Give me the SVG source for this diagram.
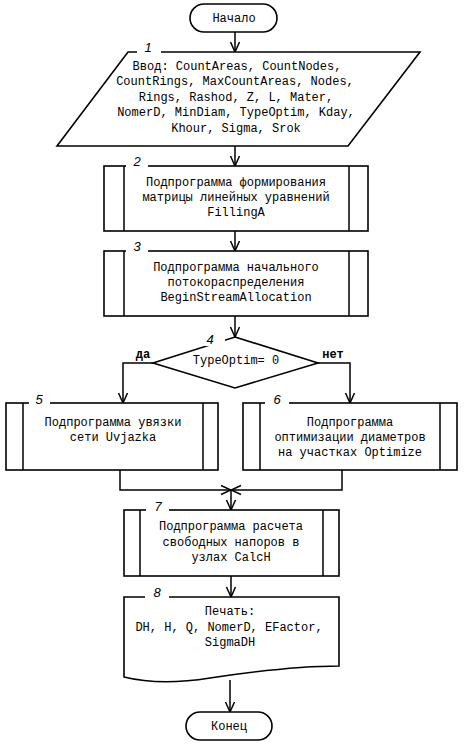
<svg xmlns="http://www.w3.org/2000/svg" width="464" height="745" viewBox="0 0 464 745">
<defs>
<marker id="arr" markerUnits="userSpaceOnUse" markerWidth="12" markerHeight="12" viewBox="0 0 12 12" refX="11" refY="6" orient="auto">
<path d="M1,1.5 L11,6 L1,10.5" fill="none" stroke="#000" stroke-width="1.5"/>
</marker>
</defs>
<style>
.s{fill:#fff;stroke:#000;stroke-width:1.6}
.l{fill:none;stroke:#000;stroke-width:1.5}
.t{font-family:"Liberation Mono","Courier New",monospace;font-size:12px;text-anchor:middle;fill:#000}
.n{font-family:"Liberation Sans",Arial,sans-serif;font-style:italic;font-size:13px;text-anchor:middle;fill:#000}
.y{font-family:"Liberation Mono","Courier New",monospace;font-size:12px;font-weight:bold;text-anchor:middle;fill:#000}
.g{fill:#fff;stroke:none}
</style>
<rect width="464" height="745" fill="#fff"/>
<g id="connectors">
<line class="l" x1="235" y1="32" x2="235" y2="52" marker-end="url(#arr)"/>
<line class="l" x1="235" y1="146" x2="235" y2="166" marker-end="url(#arr)"/>
<line class="l" x1="235" y1="231" x2="235" y2="251" marker-end="url(#arr)"/>
<line class="l" x1="235" y1="316" x2="235" y2="337" marker-end="url(#arr)"/>
<polyline class="l" points="153,363 123,363 123,403" marker-end="url(#arr)"/>
<polyline class="l" points="318,363 350,363 350,403" marker-end="url(#arr)"/>
<polyline class="l" points="120,470 120,490 231,490" marker-end="url(#arr)"/>
<polyline class="l" points="342,470 342,490 231,490" marker-end="url(#arr)"/>
<line class="l" x1="231" y1="490" x2="231" y2="510" marker-end="url(#arr)"/>
<line class="l" x1="231" y1="576" x2="231" y2="597" marker-end="url(#arr)"/>
<line class="l" x1="230" y1="680" x2="230" y2="712" marker-end="url(#arr)"/>
<text class="y" x="143" y="358">да</text>
<text class="y" x="333" y="358">нет</text>
</g>
<g id="start">
<rect class="s" x="190" y="4" width="87" height="28" rx="14"/>
<text class="t" x="234" y="22">Начало</text>
</g>
<g id="n1">
<polygon class="s" points="128,52 420,52 348,146 57,146"/>
<rect class="g" x="137" y="46" width="24" height="10"/>
<text class="n" x="148" y="52">1</text>
<text class="t" x="237" y="70">Ввод: CountAreas, CountNodes,</text>
<text class="t" x="235" y="85">CountRings, MaxCountAreas, Nodes,</text>
<text class="t" x="236" y="101">Rings, Rashod, Z, L, Mater,</text>
<text class="t" x="236" y="116">NomerD, MinDiam, TypeOptim, Kday,</text>
<text class="t" x="236" y="132">Khour, Sigma, Srok</text>
</g>
<g id="n2">
<rect class="s" x="104" y="166" width="264" height="65"/>
<line class="l" x1="124" y1="166" x2="124" y2="231"/>
<line class="l" x1="349" y1="166" x2="349" y2="231"/>
<rect class="g" x="126" y="160" width="22" height="10"/>
<text class="n" x="137" y="166">2</text>
<text class="t" x="236" y="186">Подпрограмма формирования</text>
<text class="t" x="236" y="201">матрицы линейных уравнений</text>
<text class="t" x="236" y="216">FillingA</text>
</g>
<g id="n3">
<rect class="s" x="104" y="251" width="264" height="65"/>
<line class="l" x1="124" y1="251" x2="124" y2="316"/>
<line class="l" x1="349" y1="251" x2="349" y2="316"/>
<rect class="g" x="126" y="245" width="22" height="10"/>
<text class="n" x="137" y="251">3</text>
<text class="t" x="236" y="271">Подпрограмма начального</text>
<text class="t" x="236" y="286">потокораспределения</text>
<text class="t" x="236" y="301">BeginStreamAllocation</text>
</g>
<g id="n4">
<polygon class="s" points="235,337 318,363 235,388 153,363"/>
<rect class="g" x="196" y="334" width="29" height="12"/>
<text class="n" x="210" y="344">4</text>
<text class="t" x="236" y="364">TypeOptim= 0</text>
</g>
<g id="n5">
<rect class="s" x="6" y="403" width="212" height="67"/>
<line class="l" x1="23" y1="403" x2="23" y2="470"/>
<line class="l" x1="203" y1="403" x2="203" y2="470"/>
<rect class="g" x="29" y="397" width="21" height="10"/>
<text class="n" x="39" y="404">5</text>
<text class="t" x="113" y="426">Подпрограмма увязки</text>
<text class="t" x="113" y="441">сети Uvjazka</text>
</g>
<g id="n6">
<rect class="s" x="243" y="403" width="214" height="67"/>
<line class="l" x1="260" y1="403" x2="260" y2="470"/>
<line class="l" x1="440" y1="403" x2="440" y2="470"/>
<rect class="g" x="265" y="397" width="24" height="10"/>
<text class="n" x="277" y="404">6</text>
<text class="t" x="350" y="426">Подпрограмма</text>
<text class="t" x="350" y="441">оптимизации диаметров</text>
<text class="t" x="350" y="456">на участках Optimize</text>
</g>
<g id="n7">
<rect class="s" x="124" y="510" width="215" height="66"/>
<line class="l" x1="140" y1="510" x2="140" y2="576"/>
<line class="l" x1="323" y1="510" x2="323" y2="576"/>
<rect class="g" x="146" y="504" width="23" height="10"/>
<text class="n" x="158" y="511">7</text>
<text class="t" x="231" y="530">Подпрограмма расчета</text>
<text class="t" x="231" y="546">свободных напоров в</text>
<text class="t" x="231" y="561">узлах CalcH</text>
</g>
<g id="n8">
<path class="s" d="M124,597 L339,597 L339,666 Q 290,666 210,678 Q 160,686 124,677 Z"/>
<rect class="g" x="145" y="591" width="24" height="10"/>
<text class="n" x="157" y="597">8</text>
<text class="t" x="230" y="615">Печать:</text>
<text class="t" x="229" y="631">DH, H, Q, NomerD, EFactor,</text>
<text class="t" x="230" y="646">SigmaDH</text>
</g>
<g id="end">
<rect class="s" x="186" y="712" width="86" height="28" rx="14"/>
<text class="t" x="229" y="730">Конец</text>
</g>
</svg>
